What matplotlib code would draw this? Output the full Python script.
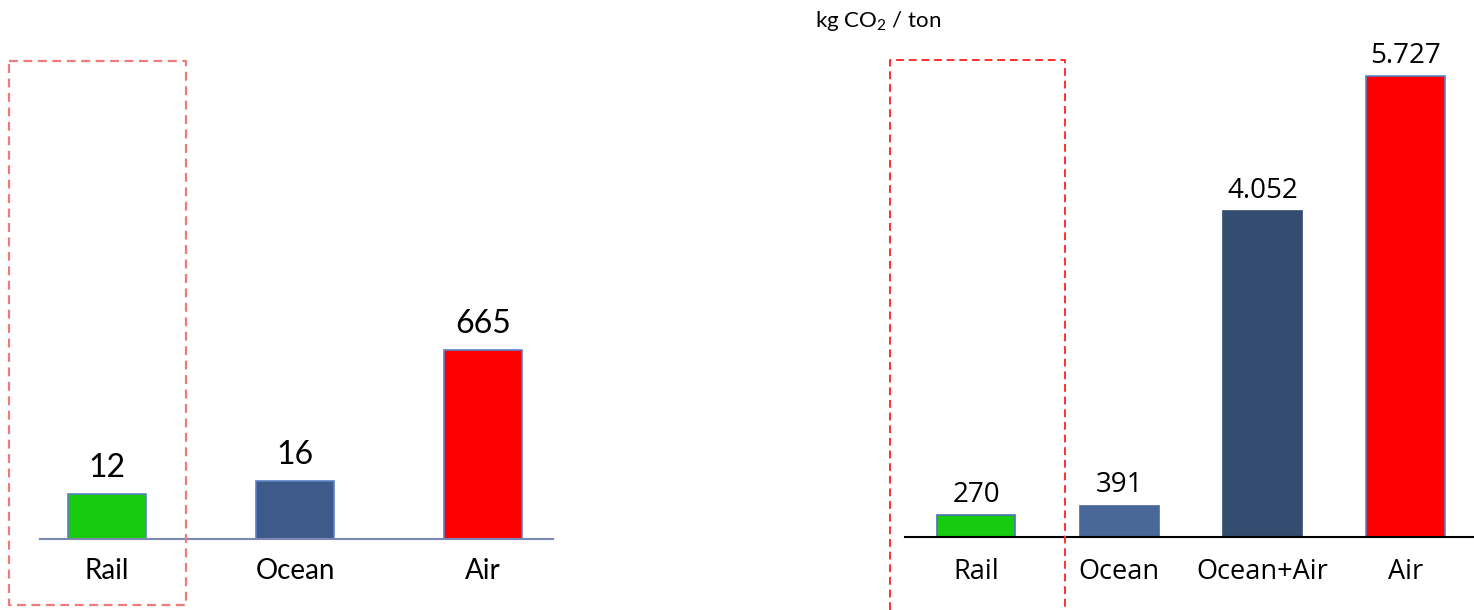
import numpy as np
import matplotlib
matplotlib.use('Agg')
import matplotlib.pyplot as plt
from matplotlib.lines import Line2D


# left panel: bars in the source are not drawn to scale, so keep the drawn heights apart
left_cats = ['Rail', 'Ocean', 'Air']
left_labels = ['12', '16', '665']
left_heights = [45, 58, 189]
left_colors = ['#17cc0f', '#3d5a8a', '#ff0000']

# right panel: kg CO2 / ton
right_cats = ['Rail', 'Ocean', 'Ocean+Air', 'Air']
right_vals = [270, 391, 4052, 5727]
right_labels = ['270', '391', '4.052', '5.727']
right_colors = ['#17cc0f', '#4a6799', '#344c6f', '#ff0000']
right_edges = ['#4a72b8', '#4a6799', '#344c6f', '#5b82c6']

W, H = 1474, 610


def fx(px):
    return px / W


def fy(py):
    return 1 - py / H


fig = plt.figure(figsize=(W / 100, H / 100), dpi=100)

# ---- left chart
ax1 = fig.add_axes([fx(40), fy(539), fx(553) - fx(40), fy(60) - fy(539)])
x1 = np.arange(len(left_cats))
ax1.bar(x1, left_heights, width=0.42, color=left_colors, edgecolor='#5b82c6', linewidth=1.2)
ax1.set_xlim((40 - 107) / 188, (553 - 107) / 188)
ax1.set_ylim(0, 479)
ax1.axhline(0, color='#7b87b5', lw=1.5, clip_on=False)
for xi, h, lab in zip(x1, left_heights, left_labels):
    ax1.annotate(lab, (xi, h), xytext=(0, 19), textcoords='offset points',
                 ha='center', va='center', fontsize=23, family='Lato')
for xi, c in zip(x1, left_cats):
    ax1.annotate(c, (xi, 0), xytext=(0, -23), textcoords='offset points',
                 ha='center', va='center', fontsize=20, family='Lato')
ax1.axis('off')

# ---- right chart
top_px = 40
ax2 = fig.add_axes([fx(905), fy(537), fx(1474) - fx(905), fy(top_px) - fy(537)])
x2 = np.arange(len(right_cats))
ax2.bar(x2, right_vals, width=0.55, color=right_colors, edgecolor=right_edges, linewidth=1.2)
ax2.set_xlim((905 - 976) / 143.3, (1474 - 976) / 143.3)
ax2.set_ylim(0, 5727 * (537 - top_px) / (537 - 76))
ax2.axhline(0, color='black', lw=1.5, clip_on=False)
for xi, v, lab in zip(x2, right_vals, right_labels):
    ax2.annotate(lab, (xi, v), xytext=(0, 14.5), textcoords='offset points',
                 ha='center', va='center', fontsize=20, family='Open Sans')
for xi, c in zip(x2, right_cats):
    ax2.annotate(c, (xi, 0), xytext=(0, -25), textcoords='offset points',
                 ha='center', va='center', fontsize=19.5, family='Open Sans',
                 fontweight='medium')
ax2.axis('off')

fig.text(fx(815), fy(27), r'kg CO$_\mathregular{2}$ / ton', ha='left', va='baseline',
         fontsize=16, family='Lato')

# dashed highlight boxes
bx = [fx(9), fx(186), fx(186), fx(9), fx(9)]
by = [fy(61), fy(61), fy(605), fy(605), fy(61)]
fig.add_artist(Line2D(bx, by, color='#ee7b7b', lw=1.6, ls=(0, (4, 2.5))))
bx = [fx(890), fx(890), fx(1065), fx(1065)]
by = [fy(610), fy(60), fy(60), fy(610)]
fig.add_artist(Line2D(bx, by, color='#ff3030', lw=1.4, ls=(0, (4, 2.5))))

fig.savefig('out.png', dpi=100, facecolor='white')
